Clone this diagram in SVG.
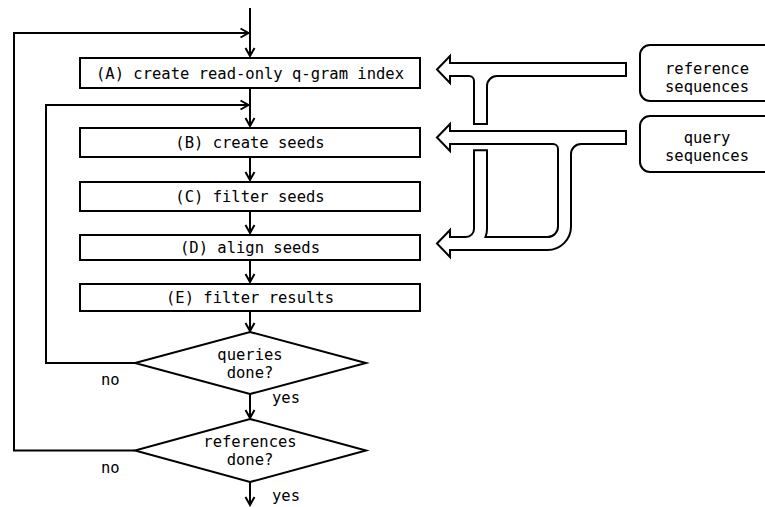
<svg xmlns="http://www.w3.org/2000/svg" width="765" height="507" viewBox="0 0 765 507">
<defs>
<style>
text{font-family:"DejaVu Sans Mono","Liberation Mono",monospace;font-size:15.5px;fill:#000}
.c{text-anchor:middle}
.box{fill:#fff;stroke:#000;stroke-width:2}
.ln{fill:none;stroke:#000;stroke-width:2}
.rb{fill:none;stroke:#000;stroke-width:15}
.rw{fill:none;stroke:#fff;stroke-width:11}
.hd{fill:#fff;stroke:#000;stroke-width:2;stroke-linejoin:miter}
</style>
<marker id="ah" viewBox="-10 -6 12 12" refX="0" refY="0" markerWidth="12" markerHeight="12" markerUnits="userSpaceOnUse" orient="auto">
<path d="M-8,-4.5 L0,0 L-8,4.5" fill="none" stroke="#000" stroke-width="2"/>
</marker>
</defs>
<rect width="765" height="507" fill="#fff"/>

<g id="connectors">
<path class="ln" d="M250 8 V56" marker-end="url(#ah)"/>
<path class="ln" d="M250 89 V126" marker-end="url(#ah)"/>
<path class="ln" d="M250 158 V180" marker-end="url(#ah)"/>
<path class="ln" d="M250 212 V233" marker-end="url(#ah)"/>
<path class="ln" d="M250 261 V282" marker-end="url(#ah)"/>
<path class="ln" d="M250 312 V331" marker-end="url(#ah)"/>
<path class="ln" d="M250 394 V418" marker-end="url(#ah)"/>
<path class="ln" d="M250 482 V505" marker-end="url(#ah)"/>
<path class="ln" d="M136 363 H46 V105 H248.5" marker-end="url(#ah)"/>
<path class="ln" d="M135 450.5 H14 V33 H248.5" marker-end="url(#ah)"/>
</g>

<g id="flows">
<g id="flows-outline">
<path class="rb" d="M627 69.5 H450"/>
<path class="rb" d="M627 69.5 H497 A16.5 16.5 0 0 0 480.5 86 V125"/>
<path class="rb" d="M450 69.5 H469 A11.5 11.5 0 0 1 480.5 81 V125"/>
<path class="rb" d="M627 137.5 H450"/>
<path class="rb" d="M627 137.5 H581 A16.5 16.5 0 0 0 564.5 154 V226.5 A17 17 0 0 1 547.5 243.5 H450"/>
<path class="rb" d="M450 137.5 H553 A11.5 11.5 0 0 1 564.5 149 V170"/>
<path class="rb" d="M480.5 149.3 V229 A14.5 14.5 0 0 1 466 243.5 H450"/>
</g>
<g id="flow-heads">
<polygon class="hd" points="437,69.5 450,56 450,83"/>
<polygon class="hd" points="437,137.5 450,124 450,151"/>
<polygon class="hd" points="437,243.5 450,230 450,257"/>
</g>
<g id="flows-fill">
<path class="rw" d="M625 69.5 H447"/>
<path class="rw" d="M625 69.5 H497 A16.5 16.5 0 0 0 480.5 86 V123"/>
<path class="rw" d="M447 69.5 H469 A11.5 11.5 0 0 1 480.5 81 V123"/>
<path class="rw" d="M625 137.5 H447"/>
<path class="rw" d="M625 137.5 H581 A16.5 16.5 0 0 0 564.5 154 V226.5 A17 17 0 0 1 547.5 243.5 H447"/>
<path class="rw" d="M447 137.5 H553 A11.5 11.5 0 0 1 564.5 149 V170"/>
<path class="rw" d="M480.5 151.3 V229 A14.5 14.5 0 0 1 466 243.5 H447"/>
</g>
</g>

<g id="nodeA"><rect class="box" x="80" y="58" width="340" height="30"/><text class="c" x="250" y="78.5">(A) create read-only q-gram index</text></g>
<g id="nodeB"><rect class="box" x="80" y="128" width="340" height="29"/><text class="c" x="250" y="148">(B) create seeds</text></g>
<g id="nodeC"><rect class="box" x="80" y="182" width="340" height="29"/><text class="c" x="250" y="202">(C) filter seeds</text></g>
<g id="nodeD"><rect class="box" x="80" y="235" width="340" height="25"/><text class="c" x="250" y="253">(D) align seeds</text></g>
<g id="nodeE"><rect class="box" x="80" y="284" width="340" height="27"/><text class="c" x="250" y="303">(E) filter results</text></g>

<g id="queriesDone">
<polygon class="box" points="250,332 366,363 250,394 135,363"/>
<text class="c" x="250" y="360">queries</text>
<text class="c" x="250" y="378">done?</text>
</g>
<g id="referencesDone">
<polygon class="box" points="250,419 366,450.5 250,482 135,450.5"/>
<text class="c" x="250" y="447">references</text>
<text class="c" x="250" y="465">done?</text>
</g>

<g id="labels">
<text x="101" y="385">no</text>
<text x="272" y="403">yes</text>
<text x="101" y="473">no</text>
<text x="272" y="501">yes</text>
</g>

<g id="refSeq"><rect class="box" x="640" y="45" width="140" height="56" rx="10"/><text class="c" x="707" y="74">reference</text><text class="c" x="707" y="92">sequences</text></g>
<g id="querySeq"><rect class="box" x="640" y="116" width="140" height="56" rx="10"/><text class="c" x="707" y="143">query</text><text class="c" x="707" y="161">sequences</text></g>
</svg>
